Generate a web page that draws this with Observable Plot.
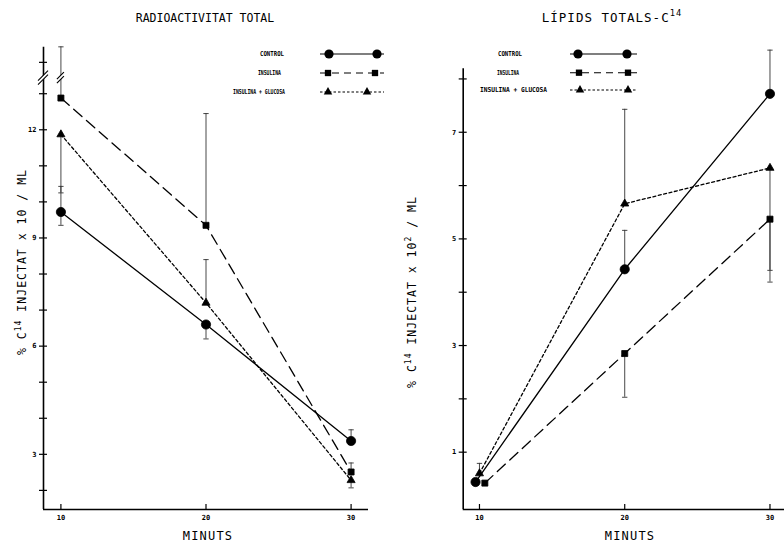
<!DOCTYPE html>
<html><head><meta charset="utf-8">
<script src="https://cdn.jsdelivr.net/npm/d3@7"></script>
<script src="https://cdn.jsdelivr.net/npm/@observablehq/plot@0.6"></script>
<style>
html,body{margin:0;padding:0;background:#fff;}
#wrap{position:relative;width:784px;height:544px;overflow:hidden;background:#fff;}
#wrap svg{position:absolute;top:0;}
</style></head><body><div id="wrap"></div>
<script>
// ---------- data ----------
const minutes = [10, 20, 30];
const seriesNames = ["CONTROL", "INSULINA", "INSULINA + GLUCOSA"];

// Left panel: RADIOACTIVITAT TOTAL (% C14 injectat x 10 / ml)
const radControl   = [9.72, 6.6, 3.37];
const radControlLo = [9.35, 6.2, 3.37];
const radControlHi = [10.43, 6.6, 3.68];
const radInsulina   = [12.88, 9.35, 2.51];
const radInsulinaLo = [12.88, 9.35, 2.51];
const radInsulinaHi = [14.3, 12.45, 2.76];
const radInsGluc   = [11.87, 7.2, 2.28];
const radInsGlucLo = [10.25, 7.2, 2.07];
const radInsGlucHi = [11.87, 8.4, 2.28];
const radYTicks = [2, 3, 4, 5, 6, 7, 8, 9, 10, 11, 12, 13, 13.87];
const radYLabels = [3, 6, 9, 12];
const radBreak = 13.43;

// Right panel: LIPIDS TOTALS-C14 (% C14 injectat x 10^2 / ml)
const lipMinControl  = [9.73, 20, 30];
const lipMinInsulina = [10.37, 20, 30];
const lipMinInsGluc  = [10, 20, 30];
const lipControl   = [0.44, 4.43, 7.72];
const lipControlLo = [0.44, 4.43, 7.72];
const lipControlHi = [0.44, 5.16, 8.54];
const lipInsulina   = [0.42, 2.85, 5.37];
const lipInsulinaLo = [0.42, 2.03, 4.41];
const lipInsulinaHi = [0.42, 2.85, 5.37];
const lipInsGluc   = [0.6, 5.66, 6.33];
const lipInsGlucLo = [0.6, 5.66, 4.19];
const lipInsGlucHi = [0.79, 7.43, 6.33];
const lipYTicks = [1, 2, 3, 4, 5, 6, 7, 8];
const lipYLabels = [1, 3, 5, 7];

// ---------- styles ----------
const FONT = "DejaVu Sans Mono, Liberation Mono, monospace";
const styles = {
  "CONTROL": {symbol: "circle", r: 4.6, dash: null},
  "INSULINA": {symbol: "square", r: 3.4, dash: "11,6"},
  "INSULINA + GLUCOSA": {symbol: "triangle", r: 3.0, dash: "3,2.5"}
};
const capSymbol = {draw(ctx, size) { const w = Math.sqrt(size) / 2; ctx.moveTo(-w, 0); ctx.lineTo(w, 0); }};

function buildRows(list) {
  return list.flatMap(s => s.x.map((x, i) => ({series: s.name, x, y: s.y[i], lo: s.lo[i], hi: s.hi[i]})));
}

function makePanel(cfg) {
  const rows = buildRows(cfg.series);
  const caps = rows.flatMap(r => [
    r.lo < r.y ? {x: r.x, y: r.lo} : null,
    r.hi > r.y ? {x: r.x, y: r.hi} : null
  ].filter(Boolean));
  const plotW = cfg.width - cfg.marginLeft - cfg.marginRight;
  const plotH = cfg.height - cfg.marginTop - cfg.marginBottom;
  const marks = [
    Plot.ruleX(rows, {x: "x", y1: "lo", y2: "hi", stroke: "#333", strokeWidth: 0.9}),
    Plot.dot(caps, {x: "x", y: "y", symbol: capSymbol, r: 3, stroke: "#333", fill: "none", strokeWidth: 0.9}),
    ...seriesNames.map(n => Plot.line(rows.filter(r => r.series === n), {
      x: "x", y: "y", stroke: "black", strokeWidth: 1.3, strokeDasharray: styles[n].dash
    })),
    ...seriesNames.map(n => Plot.dot(rows.filter(r => r.series === n), {
      x: "x", y: "y", symbol: styles[n].symbol, r: styles[n].r, fill: "black", stroke: "black", strokeWidth: 0.8
    })),
    Plot.ruleX([cfg.xDomain[0]], {stroke: "black", strokeWidth: 1.6}),
    Plot.ruleY([cfg.yDomain[0]], {stroke: "black", strokeWidth: 1.6}),
    Plot.tickY(cfg.yTicks, {y: d => d, insetLeft: -4, insetRight: plotW - 4, stroke: "black", strokeWidth: 1.2}),
    Plot.tickX(minutes, {x: d => d, insetTop: plotH - 5, stroke: "black", strokeWidth: 1.2}),
    Plot.axisY(cfg.yLabels, {tickSize: 0, tickPadding: 7, fontSize: 7, fontFamily: FONT, fontWeight: "bold", label: null, tickFormat: d3.format("d")}),
    Plot.axisX(minutes, {tickSize: 0, tickPadding: 6, fontSize: 7, fontFamily: FONT, fontWeight: "bold", label: null, tickFormat: d3.format("d")})
  ];
  return Plot.plot({
    width: cfg.width, height: cfg.height,
    marginLeft: cfg.marginLeft, marginRight: cfg.marginRight,
    marginTop: cfg.marginTop, marginBottom: cfg.marginBottom,
    x: {domain: cfg.xDomain, label: null},
    y: {domain: cfg.yDomain, label: null},
    style: {background: "transparent", overflow: "visible", color: "black"},
    marks
  });
}

const left = makePanel({
  width: 392, height: 544, marginLeft: 43, marginRight: 24, marginTop: 46.7, marginBottom: 35,
  xDomain: [8.8, 31.2], yDomain: [1.47, 14.29],
  yTicks: radYTicks, yLabels: radYLabels,
  series: [
    {name: "CONTROL", x: minutes, y: radControl, lo: radControlLo, hi: radControlHi},
    {name: "INSULINA", x: minutes, y: radInsulina, lo: radInsulinaLo, hi: radInsulinaHi},
    {name: "INSULINA + GLUCOSA", x: minutes, y: radInsGluc, lo: radInsGlucLo, hi: radInsGlucHi}
  ]
});
const right = makePanel({
  width: 392, height: 544, marginLeft: 70.7, marginRight: 0, marginTop: 68.3, marginBottom: 35,
  xDomain: [8.88, 31.0], yDomain: [-0.075, 8.19],
  yTicks: lipYTicks, yLabels: lipYLabels,
  series: [
    {name: "CONTROL", x: lipMinControl, y: lipControl, lo: lipControlLo, hi: lipControlHi},
    {name: "INSULINA", x: lipMinInsulina, y: lipInsulina, lo: lipInsulinaLo, hi: lipInsulinaHi},
    {name: "INSULINA + GLUCOSA", x: lipMinInsGluc, y: lipInsGluc, lo: lipInsGlucLo, hi: lipInsGlucHi}
  ]
});

const wrap = document.getElementById("wrap");
left.style.left = "0px";
right.style.left = "392px";
wrap.appendChild(left);
wrap.appendChild(right);

// ---------- overlay: titles, axis titles, legends, breaks ----------
const ov = d3.select(wrap).append("svg")
  .attr("width", 784).attr("height", 544)
  .style("left", "0px").style("pointer-events", "none");

function title(x, y, parts, size, spacing) {
  const t = ov.append("text").attr("x", x).attr("y", y).attr("text-anchor", "middle")
    .attr("font-family", FONT).attr("font-size", size).attr("letter-spacing", spacing);
  parts.forEach(p => {
    const s = t.append("tspan").text(p.t);
    if (p.sup) s.attr("font-size", size * 0.7).attr("dy", -size * 0.45);
  });
  return t;
}
title(205, 22, [{t: "RADIOACTIVITAT TOTAL"}], 11.5, 0);
title(612, 22, [{t: "LÍPIDS TOTALS-C"}, {t: "14", sup: true}], 12.5, 1);
title(208, 540, [{t: "MINUTS"}], 12, 1.2);
title(630, 540, [{t: "MINUTS"}], 12, 1.2);

function ylabel(x, y, parts) {
  const t = ov.append("text").attr("transform", `translate(${x},${y}) rotate(-90)`)
    .attr("text-anchor", "middle").attr("font-family", FONT).attr("font-size", 11.5).attr("letter-spacing", 1.0);
  parts.forEach(p => {
    const s = t.append("tspan").text(p.t);
    if (p.sup) s.attr("font-size", 8).attr("dy", -5);
    if (p.down) s.attr("dy", 5);
  });
}
ylabel(26, 262, [{t: "% C"}, {t: "14", sup: true}, {t: " INJECTAT x 10 / ML", down: true}]);
ylabel(416, 292, [{t: "% C"}, {t: "14", sup: true}, {t: " INJECTAT x 10", down: true}, {t: "2", sup: true}, {t: " / ML", down: true}]);

// axis break marks, placed with the left panel's scales
const xs = left.scale("x"), ys = left.scale("y");
function breakMark(px, py, w) {
  ov.append("path").attr("d", `M${px - w},${py + w + 2}L${px + w},${py - w + 2}L${px + w},${py - w - 2}L${px - w},${py + w - 2}Z`)
    .attr("fill", "white");
  [-2, 2].forEach(o => ov.append("line")
    .attr("x1", px - w).attr("y1", py + w + o).attr("x2", px + w).attr("y2", py - w + o)
    .attr("stroke", "black").attr("stroke-width", 1.1));
}
breakMark(xs.apply(8.8), ys.apply(radBreak), 5);
breakMark(xs.apply(10), ys.apply(radBreak), 3.5);

// legends
function legend(entries) {
  entries.forEach(e => {
    const st = styles[e.name];
    ov.append("text").attr("x", e.tx).attr("y", e.y + 2.4).attr("font-family", FONT)
      .attr("font-size", 6.8).attr("font-weight", "bold")
      .attr("textLength", e.tw).attr("lengthAdjust", "spacingAndGlyphs").text(e.name);
    ov.append("line").attr("x1", e.l0).attr("x2", e.l1).attr("y1", e.y).attr("y2", e.y)
      .attr("stroke", "black").attr("stroke-width", 1.1).attr("stroke-dasharray", st.dash ? (st.dash === "3,2.5" ? "2.5,2" : "7,5") : null);
    const sym = d3.symbol().type(st.symbol === "circle" ? d3.symbolCircle : st.symbol === "square" ? d3.symbolSquare : d3.symbolTriangle)
      .size(Math.PI * st.r * st.r * (st.symbol === "circle" ? 1 : 1.1));
    e.m.forEach(mx => ov.append("path").attr("d", sym()).attr("transform", `translate(${mx},${e.y})`).attr("fill", "black"));
  });
}
legend([
  {name: "CONTROL", tx: 260, tw: 24, y: 54, l0: 320, l1: 384, m: [329, 377]},
  {name: "INSULINA", tx: 258, tw: 23, y: 73, l0: 320, l1: 384, m: [328, 375]},
  {name: "INSULINA + GLUCOSA", tx: 233, tw: 52, y: 92, l0: 320, l1: 384, m: [328, 367]}
]);
legend([
  {name: "CONTROL", tx: 498, tw: 24, y: 54, l0: 570, l1: 637, m: [578, 627]},
  {name: "INSULINA", tx: 497, tw: 22, y: 72.7, l0: 570, l1: 637, m: [579, 628]},
  {name: "INSULINA + GLUCOSA", tx: 480, tw: 67, y: 90, l0: 570, l1: 637, m: [580, 628]}
]);
</script></body></html>
